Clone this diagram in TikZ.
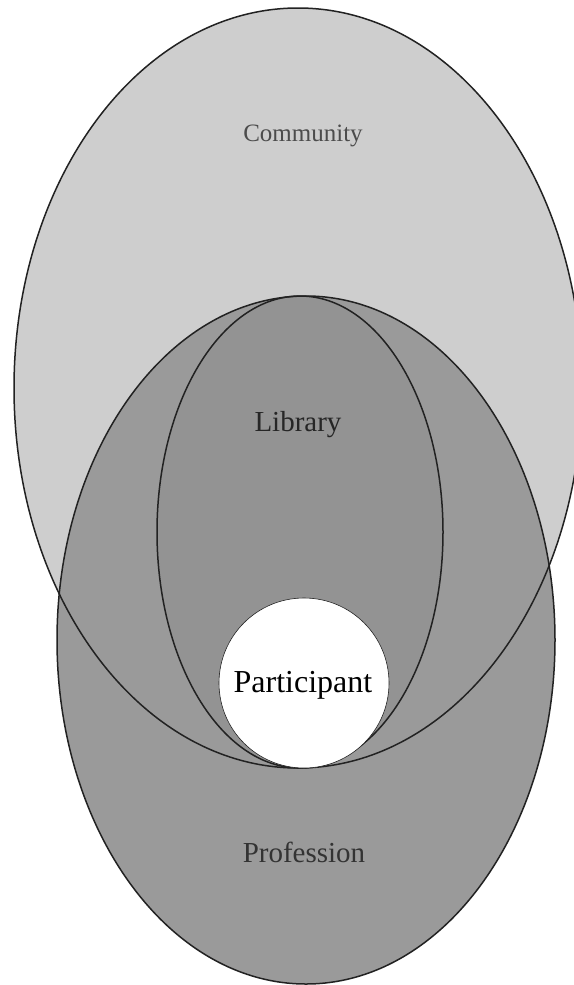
\documentclass[tikz,border=0pt]{standalone}
\usepackage{fontspec}
\setmainfont{Liberation Serif}
\definecolor{commfill}{HTML}{CECECE}
\definecolor{proffill}{HTML}{9A9A9A}
\definecolor{libfill}{HTML}{939393}
\definecolor{edge}{HTML}{222222}
\tikzset{
  outline/.style={draw=edge, line width=1.5pt},
  lbl/.style={inner sep=0pt, anchor=base},
}
\begin{document}
\begin{tikzpicture}[x=1pt,y=-1pt]
\useasboundingbox (0,0) rectangle (573,985);
\fill[white] (0,0) rectangle (573,985);
% fills
\fill[commfill] (298,388) ellipse [x radius=284, y radius=380];
\fill[proffill] (306,640) ellipse [x radius=249, y radius=344];
\fill[libfill] (300,532) ellipse [x radius=143, y radius=236];
% outlines
\draw[outline] (298,388) ellipse [x radius=284, y radius=380];
\draw[outline] (306,640) ellipse [x radius=249, y radius=344];
\draw[outline] (300,532) ellipse [x radius=143, y radius=236];
% participant
\fill[white] (304,683) circle [radius=85];
\draw[edge, line width=0.6pt] (304,683) circle [radius=85];
% labels
\node[lbl, text=black!70, font=\fontsize{25}{25}\selectfont] (comm) at (303,141) {Community};
\node[lbl, text=black!85, font=\fontsize{29}{29}\selectfont] (lib) at (298,431) {Library};
\node[lbl, text=black, font=\fontsize{32}{32}\selectfont] (part) at (303,692) {Participant};
\node[lbl, text=black!80, font=\fontsize{29}{29}\selectfont] (prof) at (304,862) {Profession};
\end{tikzpicture}
\end{document}
